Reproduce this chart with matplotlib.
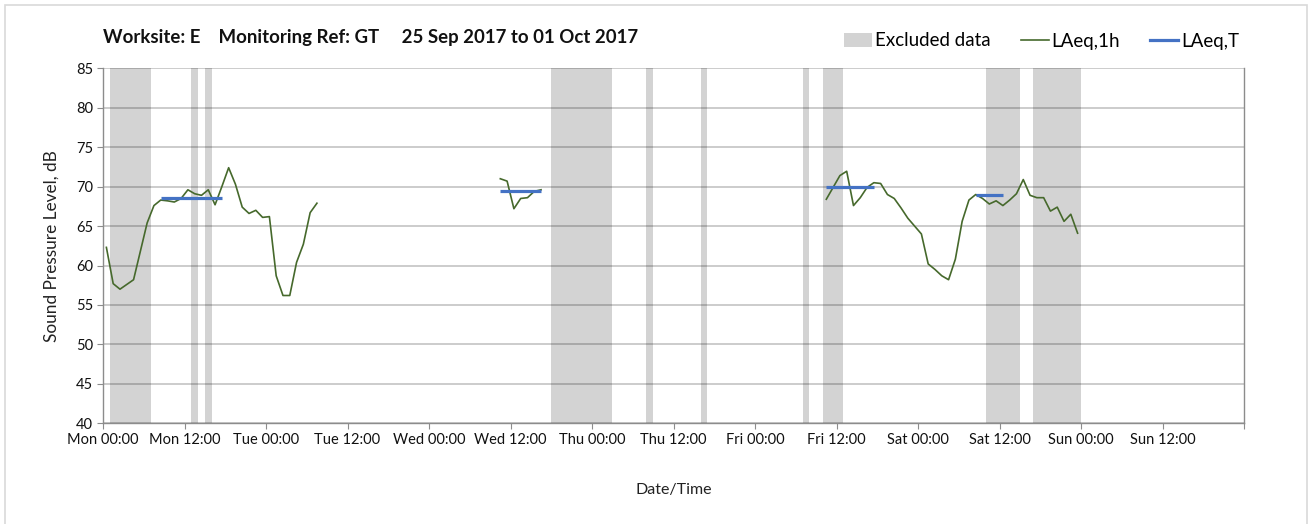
import matplotlib
matplotlib.use("Agg")
import matplotlib.pyplot as plt
from matplotlib.patches import Patch, Rectangle
from matplotlib.lines import Line2D
import pandas as pd

plt.rcParams["font.family"] = ["Lato", "DejaVu Sans"]

# hourly LAeq values, one list per block of monitoring (timestamp = start of list)
seg1_start = "2017-09-25 00:30"
seg1_laeq = [62.3, 57.7, 57.0, 57.6, 58.2, 61.8, 65.4, 67.6, 68.3, 68.2,
             68.05, 68.5, 69.6, 69.1, 68.9, 69.6, 67.7, 70.0, 72.4, 70.3,
             67.4, 66.6, 67.0, 66.1, 66.2, 58.7, 56.2, 56.2, 60.4, 62.7,
             66.7, 67.9]
seg2_start = "2017-09-27 10:30"
seg2_laeq = [71.0, 70.7, 67.2, 68.5, 68.6, 69.4, 69.6]
seg3_start = "2017-09-29 10:30"
seg3_laeq = [68.4, 69.9, 71.4, 71.95, 67.6, 68.6, 69.9, 70.5, 70.4, 69.0,
             68.5, 67.3, 66.0, 65.0, 64.0, 60.2, 59.5, 58.7, 58.2, 60.8,
             65.6, 68.3, 69.0, 68.5, 67.8, 68.2, 67.6, 68.3, 69.1, 70.9,
             68.9, 68.6, 68.6, 66.9, 67.4, 65.6, 66.5, 64.1]

# period LAeq,T
laeq_t_start = ["2017-09-25 08:30", "2017-09-27 10:30", "2017-09-29 10:30", "2017-09-30 08:30"]
laeq_t_end = ["2017-09-25 17:30", "2017-09-27 16:30", "2017-09-29 17:30", "2017-09-30 12:30"]
laeq_t_values = [68.6, 69.5, 70.0, 68.9]

# excluded periods
excl_start = ["2017-09-25 01:00", "2017-09-25 13:00", "2017-09-25 15:00", "2017-09-27 18:00",
              "2017-09-28 08:00", "2017-09-28 16:00", "2017-09-29 07:00", "2017-09-29 10:00",
              "2017-09-30 10:00", "2017-09-30 17:00"]
excl_end = ["2017-09-25 07:00", "2017-09-25 14:00", "2017-09-25 16:00", "2017-09-28 03:00",
            "2017-09-28 09:00", "2017-09-28 17:00", "2017-09-29 08:00", "2017-09-29 13:00",
            "2017-09-30 15:00", "2017-10-01 00:00"]

week_start = pd.Timestamp("2017-09-25 00:00")
week_end = pd.Timestamp("2017-10-02 00:00")

GREEN = "#46692c"
BLUE = "#4472c4"
SHADE = "#d3d3d3"

W, H = 1309, 524
fig = plt.figure(figsize=(W / 100, H / 100), dpi=100)
ax = fig.add_axes([103 / W, 1 - 423.3 / H, (1244 - 103) / W, (423.3 - 68.3) / H])

# outer chart border
fig.patches.append(Rectangle((5 / W, -0.01), (1307 - 5) / W, 1.0, transform=fig.transFigure,
                             fill=False, edgecolor="#d9d9d9", lw=1.2))

# shading is translucent so the gridlines still show through it
for s, e in zip(excl_start, excl_end):
    ax.axvspan(pd.Timestamp(s), pd.Timestamp(e), color="k", alpha=0.173, lw=0, zorder=1)

for start, vals in [(seg1_start, seg1_laeq), (seg2_start, seg2_laeq), (seg3_start, seg3_laeq)]:
    t = pd.date_range(start, periods=len(vals), freq="h")
    ax.plot(t, vals, color=GREEN, lw=1.2, zorder=2)

for s, e, v in zip(laeq_t_start, laeq_t_end, laeq_t_values):
    ax.plot([pd.Timestamp(s), pd.Timestamp(e)], [v, v], color=BLUE, lw=2.3,
            solid_capstyle="butt", zorder=3)

ax.set_xlim(week_start, week_end)
ax.set_ylim(40, 85)
ax.set_yticks(range(40, 90, 5))

ticks = pd.date_range(week_start, week_end, freq="12h")
ax.set_xticks(ticks)
ax.set_xticklabels([t.strftime("%a %H:%M") for t in ticks[:-1]] + [""])
ax.set_xticks(pd.date_range(week_start, week_end, freq="24h"), minor=True)

ax.set_axisbelow(True)
ax.grid(axis="y", color="#c4c4c4", lw=1.2)
ax.grid(axis="x", which="minor", color="#d9d9d9", lw=0.9)

ax.spines["top"].set_visible(False)
for side in ["left", "bottom", "right"]:
    ax.spines[side].set_color("#8c8c8c")
    ax.spines[side].set_linewidth(1.0)

ax.tick_params(axis="both", which="major", length=4, color="#8c8c8c", labelsize=10.5,
               labelcolor="#111111", pad=3)
ax.tick_params(axis="x", which="minor", length=0)

ax.set_ylabel("Sound Pressure Level, dB", fontsize=12.4, color="#222222", labelpad=12)
ax.set_xlabel("Date/Time", fontsize=11.5, color="#222222", labelpad=26)

fig.text(103 / W, 1 - 37 / H, "Worksite: E    Monitoring Ref: GT     25 Sep 2017 to 01 Oct 2017",
         fontsize=13.4, fontweight="bold", va="center", ha="left", color="#111111")

handles = [Patch(facecolor=SHADE, edgecolor="none"),
           Line2D([], [], color=GREEN, lw=1.2),
           Line2D([], [], color=BLUE, lw=2.3)]
fig.legend(handles, ["Excluded data", "LAeq,1h", "LAeq,T"], loc="center right",
           bbox_to_anchor=(1256 / W, 1 - 41 / H), ncol=3, frameon=False, fontsize=13.5,
           handlelength=1.5, handletextpad=0.15, columnspacing=1.6)

fig.savefig("out.png", dpi=100)
